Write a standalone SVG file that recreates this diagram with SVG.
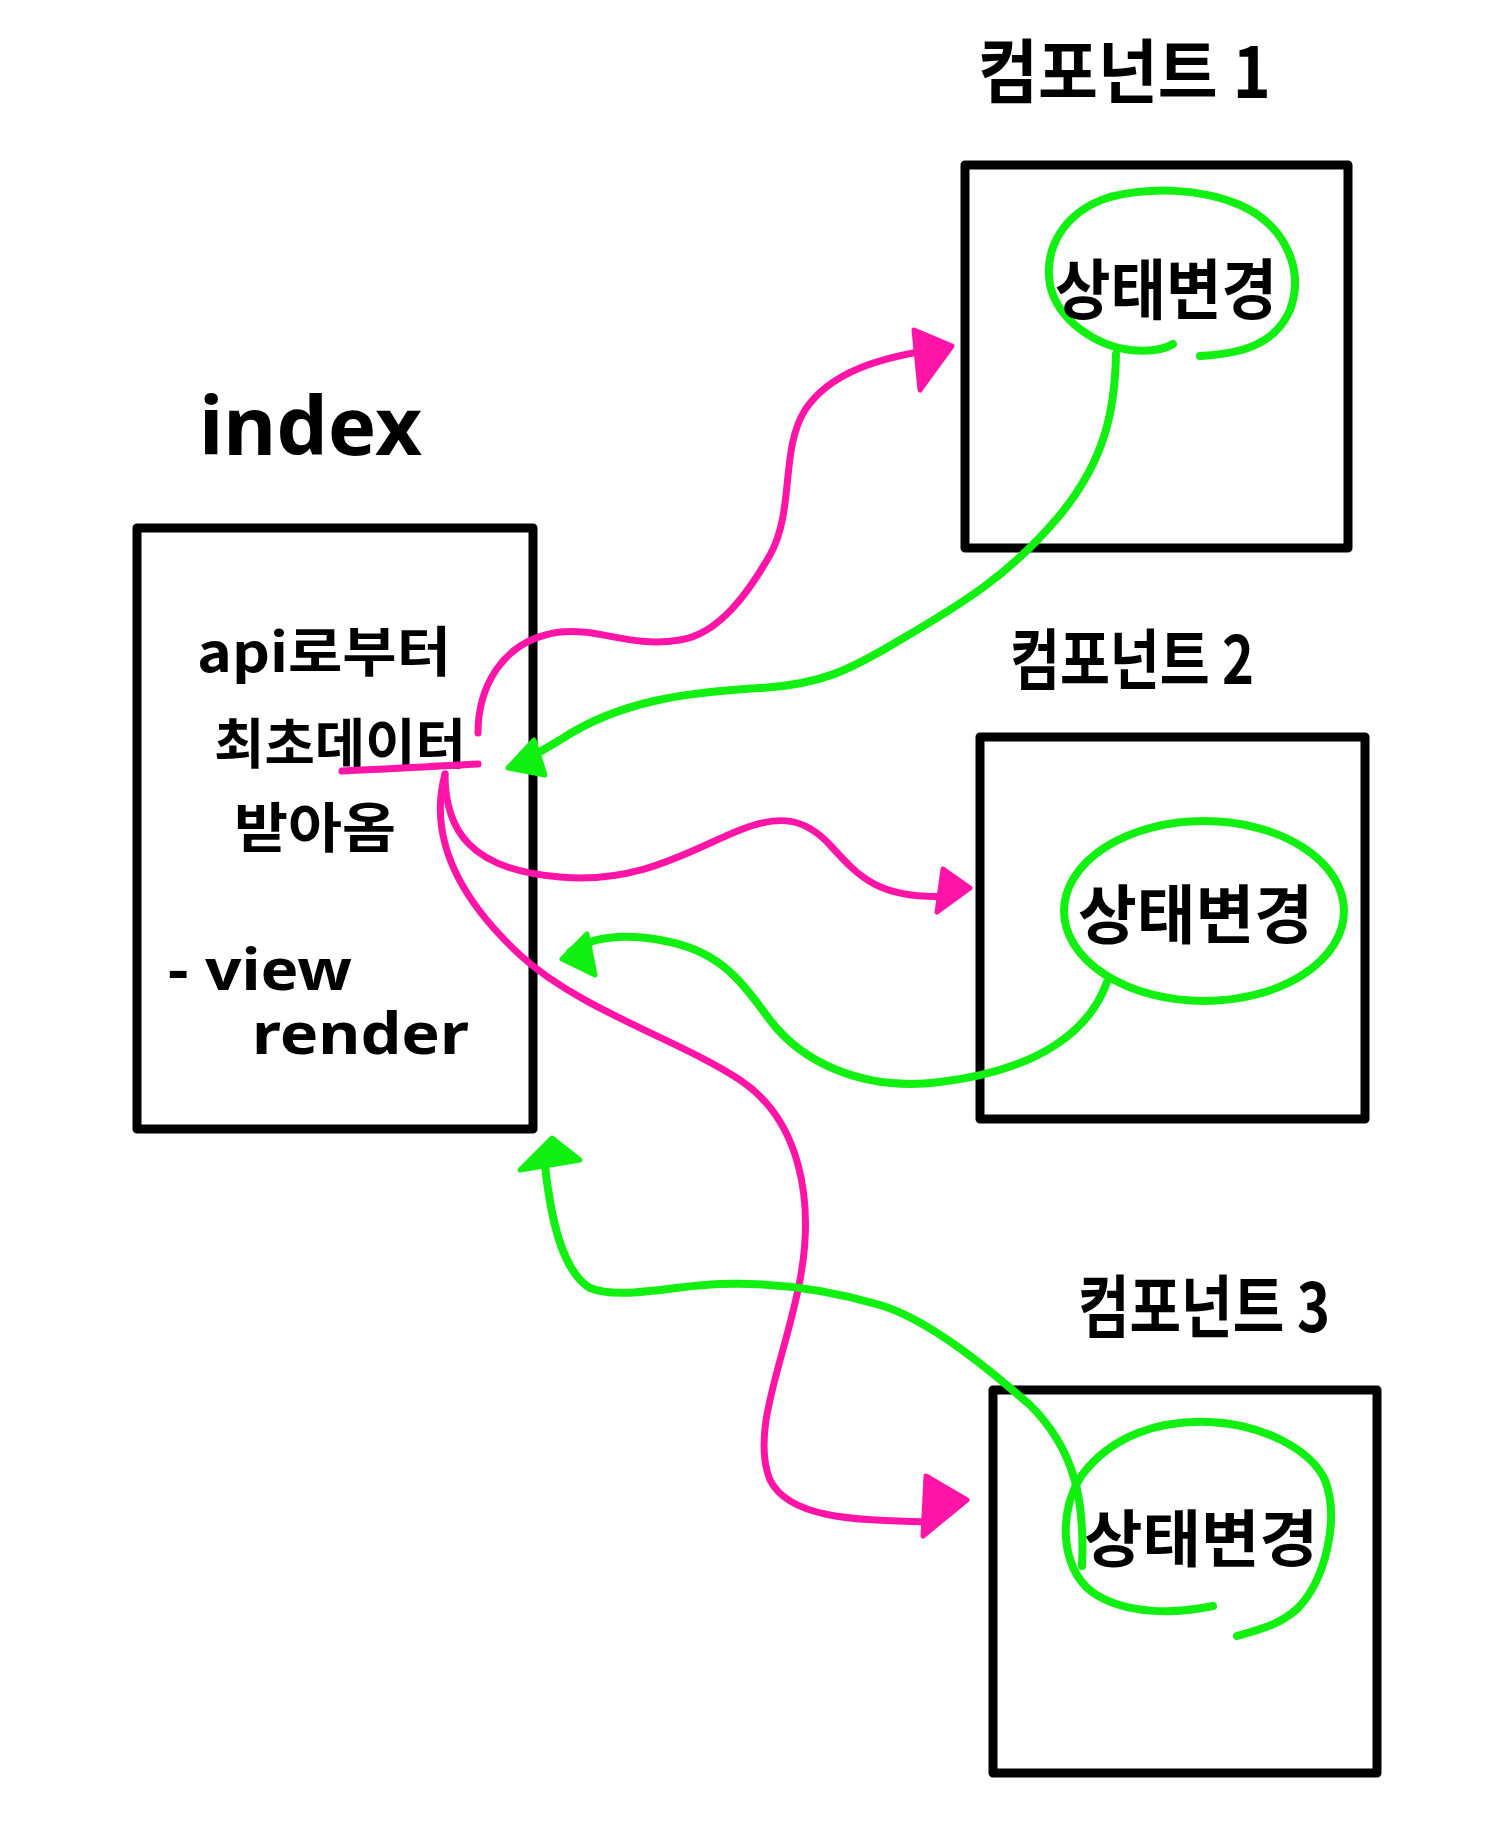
<svg xmlns="http://www.w3.org/2000/svg" width="1507" height="1838" viewBox="0 0 1507 1838">
<style>
.box{fill:none;stroke:#000;stroke-width:9;stroke-linejoin:round}
.t{font-family:"Noto Sans CJK KR","Noto Sans",sans-serif;font-weight:700;fill:#000}
.lat{font-family:"Noto Sans","Noto Sans CJK KR",sans-serif;font-weight:700;fill:#000}
.pink{fill:none;stroke:#ff14a8;stroke-width:7;stroke-linecap:round;stroke-linejoin:round}
.green{fill:none;stroke:#11f011;stroke-width:8;stroke-linecap:round;stroke-linejoin:round}
.ph{fill:#ff14a8;stroke:#ff14a8;stroke-width:5;stroke-linejoin:round}
.gh{fill:#11f011;stroke:#11f011;stroke-width:5;stroke-linejoin:round}
</style>
<rect width="1507" height="1838" fill="#fff"/>

<g id="index">
<text class="lat" x="199" y="455" font-size="80" textLength="223" lengthAdjust="spacingAndGlyphs">index</text>
<rect class="box" x="137" y="528" width="396" height="601"/>
<text class="t" x="197" y="672" font-size="54" textLength="254" lengthAdjust="spacingAndGlyphs">api로부터</text>
<text class="t" x="214" y="764" font-size="54" textLength="252" lengthAdjust="spacingAndGlyphs">최초데이터</text>
<text class="t" x="234" y="848" font-size="54" textLength="162" lengthAdjust="spacingAndGlyphs">받아옴</text>
<text class="lat" x="168" y="990" font-size="58" textLength="184" lengthAdjust="spacingAndGlyphs">- view</text>
<text class="lat" x="252" y="1054" font-size="58" textLength="217" lengthAdjust="spacingAndGlyphs">render</text>
<path class="pink" d="M342,771 C390,769 440,766 478,764"/>
</g>

<g id="component1">
<text class="t" x="978" y="98" font-size="70" textLength="293" lengthAdjust="spacingAndGlyphs">컴포넌트 1</text>
<rect class="box" x="965" y="165" width="383" height="383"/>
<path class="green" d="M1200,356 C1240,354 1275,345 1290,310 C1305,270 1285,225 1240,205 C1200,188 1150,187 1110,197 C1062,212 1044,250 1050,285 C1058,322 1098,346 1130,350 C1150,352 1165,349 1173,344"/>
<text class="t" x="1055" y="314" font-size="66" textLength="222" lengthAdjust="spacingAndGlyphs">상태변경</text>
</g>

<g id="component2">
<text class="t" x="1010" y="684" font-size="66" textLength="244" lengthAdjust="spacingAndGlyphs">컴포넌트 2</text>
<rect class="box" x="980" y="737" width="385" height="382"/>
<ellipse class="green" cx="1204" cy="911" rx="140" ry="90"/>
<text class="t" x="1078" y="938" font-size="64" textLength="235" lengthAdjust="spacingAndGlyphs">상태변경</text>
</g>

<g id="component3">
<text class="t" x="1078" y="1332" font-size="68" textLength="252" lengthAdjust="spacingAndGlyphs">컴포넌트 3</text>
<rect class="box" x="993" y="1390" width="384" height="383"/>
<path class="green" d="M1213,1606 C1175,1614 1125,1615 1092,1592 C1060,1568 1058,1510 1082,1475 C1112,1435 1160,1420 1210,1422 C1260,1424 1310,1448 1325,1480 C1340,1520 1325,1580 1298,1608 C1280,1625 1258,1630 1237,1636"/>
<text class="t" x="1084" y="1562" font-size="62" textLength="234" lengthAdjust="spacingAndGlyphs">상태변경</text>
</g>

<g id="connectors">
<path class="pink" d="M478,733 C478,690 500,640 560,632 C600,628 630,648 680,640 C720,634 750,590 770,555 C795,510 780,450 805,410 C830,372 880,358 930,350"/>
<polygon class="ph" points="914,330 952,346 920,390"/>
<path class="pink" d="M445,774 C445,830 470,870 560,877 C640,884 690,850 740,830 C780,814 805,818 830,845 C860,878 880,900 950,896"/>
<polygon class="ph" points="943,869 970,888 937,912"/>
<path class="pink" d="M445,774 C430,830 450,890 520,955 C580,1010 680,1040 740,1080 C800,1120 815,1200 800,1280 C785,1360 750,1430 770,1480 C790,1520 860,1520 930,1522"/>
<polygon class="ph" points="926,1476 967,1500 923,1536"/>

<path class="green" d="M1116,354 C1115,410 1105,460 1060,515 C1010,575 960,605 900,640 C850,670 820,685 760,688 C690,692 620,700 560,740 C540,752 525,760 515,765"/>
<polygon class="gh" points="508,768 534,740 545,775"/>
<path class="green" d="M1107,982 C1090,1030 1040,1070 940,1082 C860,1092 800,1060 770,1020 C740,980 720,950 660,940 C620,933 590,938 570,952"/>
<polygon class="gh" points="562,959 587,934 595,975"/>
<path class="green" d="M1082,1566 C1085,1500 1075,1450 1030,1405 C990,1370 930,1320 880,1305 C830,1290 780,1282 720,1284 C670,1286 620,1300 590,1288 C560,1270 550,1210 545,1166"/>
<polygon class="gh" points="520,1170 552,1138 580,1160"/>
</g>
</svg>
